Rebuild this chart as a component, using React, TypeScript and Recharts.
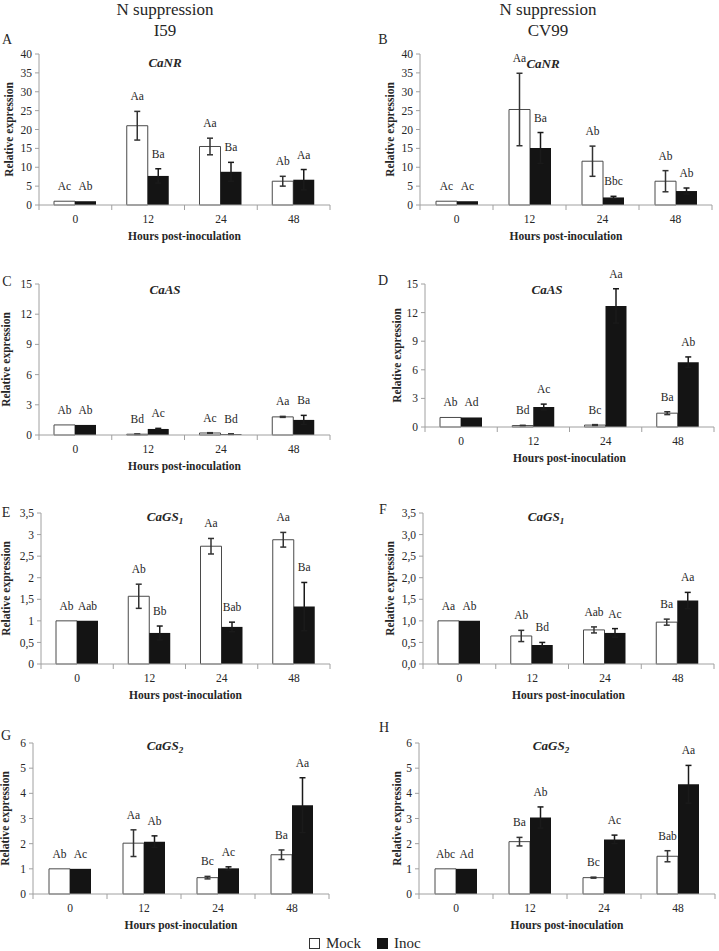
import { Bar, BarChart, ErrorBar, LabelList, XAxis, YAxis } from 'recharts';

const hours = ['0', '12', '24', '48'];

// A - CaNR, I59
const nrI59Mock = [1, 21.0, 15.5, 6.3];
const nrI59MockErr = [0, 3.8, 2.2, 1.3];
const nrI59Inoc = [1, 7.7, 8.8, 6.7];
const nrI59InocErr = [0, 1.9, 2.5, 2.7];
const nrI59MockLbl = ['Ac', 'Aa', 'Aa', 'Ab'];
const nrI59InocLbl = ['Ab', 'Ba', 'Ba', 'Aa'];

// B - CaNR, CV99
const nrCv99Mock = [1, 25.3, 11.6, 6.3];
const nrCv99MockErr = [0, 9.6, 4.0, 2.8];
const nrCv99Inoc = [1, 15.1, 2.0, 3.7];
const nrCv99InocErr = [0, 4.1, 0.3, 0.8];
const nrCv99MockLbl = ['Ac', 'Aa', 'Ab', 'Ab'];
const nrCv99InocLbl = ['Ac', 'Ba', 'Bbc', 'Ab'];

// C - CaAS, I59
const asI59Mock = [1, 0.08, 0.2, 1.8];
const asI59MockErr = [0, 0.02, 0.03, 0.05];
const asI59Inoc = [1, 0.6, 0.08, 1.5];
const asI59InocErr = [0, 0.06, 0.02, 0.45];
const asI59MockLbl = ['Ab', 'Bd', 'Ac', 'Aa'];
const asI59InocLbl = ['Ab', 'Ac', 'Bd', 'Ba'];

// D - CaAS, CV99
const asCv99Mock = [1, 0.15, 0.2, 1.45];
const asCv99MockErr = [0, 0.03, 0.05, 0.15];
const asCv99Inoc = [1, 2.1, 12.7, 6.8];
const asCv99InocErr = [0, 0.3, 1.8, 0.55];
const asCv99MockLbl = ['Ab', 'Bd', 'Bc', 'Ba'];
const asCv99InocLbl = ['Ad', 'Ac', 'Aa', 'Ab'];

// E - CaGS1, I59
const gs1I59Mock = [1, 1.57, 2.73, 2.88];
const gs1I59MockErr = [0, 0.28, 0.18, 0.17];
const gs1I59Inoc = [1, 0.72, 0.86, 1.33];
const gs1I59InocErr = [0, 0.16, 0.11, 0.56];
const gs1I59MockLbl = ['Ab', 'Ab', 'Aa', 'Aa'];
const gs1I59InocLbl = ['Aab', 'Bb', 'Bab', 'Ba'];

// F - CaGS1, CV99
const gs1Cv99Mock = [1, 0.65, 0.79, 0.97];
const gs1Cv99MockErr = [0, 0.13, 0.07, 0.07];
const gs1Cv99Inoc = [1, 0.44, 0.72, 1.47];
const gs1Cv99InocErr = [0, 0.06, 0.1, 0.19];
const gs1Cv99MockLbl = ['Aa', 'Ab', 'Aab', 'Ba'];
const gs1Cv99InocLbl = ['Ab', 'Bd', 'Ac', 'Aa'];

// G - CaGS2, I59
const gs2I59Mock = [1, 2.02, 0.65, 1.56];
const gs2I59MockErr = [0, 0.53, 0.05, 0.19];
const gs2I59Inoc = [1, 2.08, 1.02, 3.53];
const gs2I59InocErr = [0, 0.23, 0.06, 1.09];
const gs2I59MockLbl = ['Ab', 'Aa', 'Bc', 'Ba'];
const gs2I59InocLbl = ['Ac', 'Ab', 'Ac', 'Aa'];

// H - CaGS2, CV99
const gs2Cv99Mock = [1, 2.08, 0.65, 1.5];
const gs2Cv99MockErr = [0, 0.17, 0.02, 0.22];
const gs2Cv99Inoc = [1, 3.04, 2.17, 4.36];
const gs2Cv99InocErr = [0, 0.42, 0.17, 0.75];
const gs2Cv99MockLbl = ['Abc', 'Ba', 'Bc', 'Bab'];
const gs2Cv99InocLbl = ['Ad', 'Ab', 'Ac', 'Aa'];

const nrTicks = [0, 5, 10, 15, 20, 25, 30, 35, 40];
const asTicks = [0, 3, 6, 9, 12, 15];
const gs1Ticks = [0, 0.5, 1, 1.5, 2, 2.5, 3, 3.5];
const gs2Ticks = [0, 1, 2, 3, 4, 5, 6];

const SERIF = '"Liberation Serif", "Times New Roman", serif';
const TEXT = '#262626';
const AXIS = '#a0a0a0';
const MT = 30;
const MR = 6;
const XH = 45;

const commaFmt = (v: number) => String(v).replace('.', ',');
const commaFixed = (v: number) => v.toFixed(1).replace('.', ',');

interface PanelProps {
	title: string;
	sub?: string;
	mock: number[];
	mockErr: number[];
	inoc: number[];
	inocErr: number[];
	mockLbl: string[];
	inocLbl: string[];
	ticks: number[];
	fmt?: (v: number) => string;
	left: number;
	top: number;
	right: number;
	bottom: number;
	origin: number;
	yLabelX: number;
}

const Txt = ({ x, y, size, children, style }: any) => (
	<div
		style={{
			position: 'absolute',
			left: x,
			top: y,
			transform: 'translate(-50%, -50%)',
			fontSize: size,
			fontFamily: SERIF,
			color: TEXT,
			whiteSpace: 'nowrap',
			lineHeight: 1,
			...style,
		}}
	>
		{children}
	</div>
);

const Panel = (p: PanelProps) => {
	const plotW = p.right - p.left;
	const plotH = p.bottom - p.top;
	const yMax = p.ticks[p.ticks.length - 1];
	const pxPerUnit = plotH / yMax;
	const band = plotW / hours.length;
	const axisY = MT + plotH;

	const data = hours.map((h, i) => ({
		h,
		mock: p.mock[i],
		mockErr: p.mockErr[i],
		inoc: p.inoc[i],
		inocErr: p.inocErr[i],
		mockLbl: p.mockLbl[i],
		inocLbl: p.inocLbl[i],
	}));

	// letters sit a fixed distance above the top of the error bar
	const barLabel = (errs: number[], texts: string[]) => (props: any) => {
		const vb =
			props.viewBox && typeof props.viewBox.height === 'number'
				? props.viewBox
				: props;
		const i = props.index;
		const top = vb.y - errs[i] * pxPerUnit;
		return (
			<text
				key={`l-${i}`}
				x={vb.x + vb.width / 2}
				y={top - 11}
				textAnchor='middle'
				fontFamily={SERIF}
				fontSize={11.5}
				fill={TEXT}
			>
				{texts[i]}
			</text>
		);
	};

	const XTick = (props: any) => {
		const { x, payload, index } = props;
		const x0 = x - band / 2;
		return (
			<g>
				<line x1={x0} y1={axisY} x2={x0} y2={axisY + 5} stroke={AXIS} />
				{index === hours.length - 1 && (
					<line
						x1={x + band / 2}
						y1={axisY}
						x2={x + band / 2}
						y2={axisY + 5}
						stroke={AXIS}
					/>
				)}
				<text
					x={x}
					y={axisY + 18}
					textAnchor='middle'
					fontFamily={SERIF}
					fontSize={11.5}
					fill={TEXT}
				>
					{payload.value}
				</text>
			</g>
		);
	};

	const xTitle = () => (
		<text
			x={p.left - p.origin + plotW / 2}
			y={axisY + 35}
			textAnchor='middle'
			fontFamily={SERIF}
			fontWeight='bold'
			fontSize={11.5}
			fill={TEXT}
		>
			Hours post-inoculation
		</text>
	);

	const yTitle = () => {
		const cy = MT + plotH / 2;
		return (
			<text
				x={p.yLabelX}
				y={cy}
				transform={`rotate(-90 ${p.yLabelX} ${cy})`}
				textAnchor='middle'
				dominantBaseline='central'
				fontFamily={SERIF}
				fontWeight='bold'
				fontSize={11.5}
				fill={TEXT}
			>
				Relative expression
			</text>
		);
	};

	return (
		<div style={{ position: 'absolute', left: p.origin, top: p.top - MT }}>
			<BarChart
				width={p.right - p.origin + MR}
				height={plotH + MT + XH}
				data={data}
				margin={{ top: MT, right: MR, bottom: 0, left: 0 }}
				barSize={21}
				barGap={0}
			>
				<XAxis
					dataKey='h'
					height={XH}
					interval={0}
					tickLine={false}
					axisLine={{ stroke: AXIS }}
					tick={<XTick />}
					label={xTitle}
				/>
				<YAxis
					width={p.left - p.origin}
					domain={[0, yMax]}
					ticks={p.ticks}
					interval={0}
					tickFormatter={p.fmt}
					tickSize={4}
					tickMargin={3}
					tickLine={{ stroke: AXIS }}
					axisLine={{ stroke: AXIS }}
					tick={{ fontSize: 11.5, fill: TEXT, fontFamily: SERIF }}
					label={yTitle}
				/>
				<Bar
					dataKey='mock'
					fill='#ffffff'
					stroke='#4a4a4a'
					strokeWidth={1}
					isAnimationActive={false}
				>
					<ErrorBar dataKey='mockErr' width={3} stroke='#333333' />
					<LabelList
						dataKey='mockLbl'
						content={barLabel(p.mockErr, p.mockLbl)}
					/>
				</Bar>
				<Bar dataKey='inoc' fill='#141414' isAnimationActive={false}>
					<ErrorBar dataKey='inocErr' width={3} stroke='#1a1a1a' />
					<LabelList
						dataKey='inocLbl'
						content={barLabel(p.inocErr, p.inocLbl)}
					/>
				</Bar>
			</BarChart>
		</div>
	);
};

const panels: (PanelProps & { letter: string; lx: number; ly: number; tx: number; ty: number })[] = [
	{ letter: 'A', lx: 7, ly: 40, tx: 165, ty: 62, title: 'CaNR', mock: nrI59Mock, mockErr: nrI59MockErr, inoc: nrI59Inoc, inocErr: nrI59InocErr, mockLbl: nrI59MockLbl, inocLbl: nrI59InocLbl, ticks: nrTicks, left: 39, top: 54, right: 330, bottom: 205, origin: 0, yLabelX: 9 },
	{ letter: 'B', lx: 383, ly: 40, tx: 543, ty: 63, title: 'CaNR', mock: nrCv99Mock, mockErr: nrCv99MockErr, inoc: nrCv99Inoc, inocErr: nrCv99InocErr, mockLbl: nrCv99MockLbl, inocLbl: nrCv99InocLbl, ticks: nrTicks, left: 420, top: 54, right: 712, bottom: 205, origin: 362, yLabelX: 28 },
	{ letter: 'C', lx: 7, ly: 282, tx: 165, ty: 289, title: 'CaAS', mock: asI59Mock, mockErr: asI59MockErr, inoc: asI59Inoc, inocErr: asI59InocErr, mockLbl: asI59MockLbl, inocLbl: asI59InocLbl, ticks: asTicks, left: 39, top: 284, right: 330, bottom: 435, origin: 0, yLabelX: 6 },
	{ letter: 'D', lx: 383, ly: 281, tx: 547, ty: 289, title: 'CaAS', mock: asCv99Mock, mockErr: asCv99MockErr, inoc: asCv99Inoc, inocErr: asCv99InocErr, mockLbl: asCv99MockLbl, inocLbl: asCv99InocLbl, ticks: asTicks, left: 425, top: 284, right: 714, bottom: 427, origin: 362, yLabelX: 35 },
	{ letter: 'E', lx: 6, ly: 513, tx: 165, ty: 518, title: 'CaGS', sub: '1', mock: gs1I59Mock, mockErr: gs1I59MockErr, inoc: gs1I59Inoc, inocErr: gs1I59InocErr, mockLbl: gs1I59MockLbl, inocLbl: gs1I59InocLbl, ticks: gs1Ticks, fmt: commaFmt, left: 41, top: 513, right: 330, bottom: 664, origin: 0, yLabelX: 6 },
	{ letter: 'F', lx: 383, ly: 510, tx: 546, ty: 518, title: 'CaGS', sub: '1', mock: gs1Cv99Mock, mockErr: gs1Cv99MockErr, inoc: gs1Cv99Inoc, inocErr: gs1Cv99InocErr, mockLbl: gs1Cv99MockLbl, inocLbl: gs1Cv99InocLbl, ticks: gs1Ticks, fmt: commaFixed, left: 423, top: 513, right: 714, bottom: 664, origin: 362, yLabelX: 28 },
	{ letter: 'G', lx: 6, ly: 736, tx: 165, ty: 747, title: 'CaGS', sub: '2', mock: gs2I59Mock, mockErr: gs2I59MockErr, inoc: gs2I59Inoc, inocErr: gs2I59InocErr, mockLbl: gs2I59MockLbl, inocLbl: gs2I59InocLbl, ticks: gs2Ticks, left: 33, top: 743, right: 329, bottom: 894, origin: 0, yLabelX: 5 },
	{ letter: 'H', lx: 384, ly: 728, tx: 551, ty: 747, title: 'CaGS', sub: '2', mock: gs2Cv99Mock, mockErr: gs2Cv99MockErr, inoc: gs2Cv99Inoc, inocErr: gs2Cv99InocErr, mockLbl: gs2Cv99MockLbl, inocLbl: gs2Cv99InocLbl, ticks: gs2Ticks, left: 419, top: 743, right: 715, bottom: 894, origin: 362, yLabelX: 35 },
];

const App = () => (
	<div
		style={{
			position: 'absolute',
			left: 0,
			top: 0,
			width: 719,
			height: 951,
			overflow: 'hidden',
			background: '#fff',
		}}
	>
		{panels.map((p) => (
			<Panel key={p.letter} {...p} />
		))}

		<Txt x={165} y={9} size={17}>N suppression</Txt>
		<Txt x={165} y={30} size={17}>I59</Txt>
		<Txt x={548} y={9} size={17}>N suppression</Txt>
		<Txt x={548} y={30} size={17}>CV99</Txt>

		{panels.map((p) => (
			<Txt key={`t-${p.letter}`} x={p.lx} y={p.ly} size={14}>
				{p.letter}
			</Txt>
		))}
		{panels.map((p) => (
			<Txt
				key={`h-${p.letter}`}
				x={p.tx}
				y={p.ty}
				size={13}
				style={{ fontWeight: 'bold', fontStyle: 'italic' }}
			>
				{p.title}
				{p.sub && <sub style={{ fontSize: 9, verticalAlign: -3 }}>{p.sub}</sub>}
			</Txt>
		))}

		<div
			style={{
				position: 'absolute',
				left: 309,
				top: 936,
				display: 'flex',
				alignItems: 'center',
				fontFamily: SERIF,
				fontSize: 15,
				color: TEXT,
				lineHeight: 1,
			}}
		>
			<span style={{ width: 9, height: 9, border: '1px solid #333', background: '#fff', marginRight: 6 }} />
			<span style={{ marginRight: 16 }}>Mock</span>
			<span style={{ width: 11, height: 11, background: '#141414', marginRight: 6 }} />
			<span>Inoc</span>
		</div>
	</div>
);

export default App;
